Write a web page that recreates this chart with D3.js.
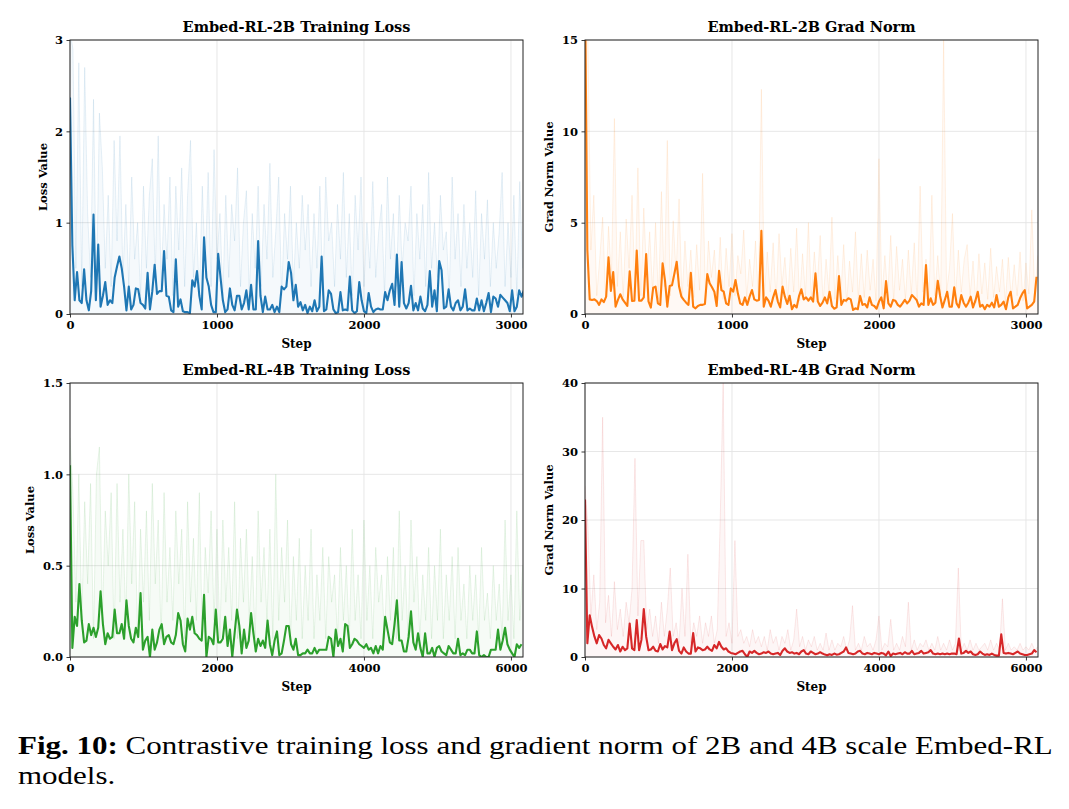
<!DOCTYPE html>
<html>
<head>
<meta charset="utf-8">
<script src="https://cdn.jsdelivr.net/npm/d3@7"></script>
<style>
  body { margin: 0; background: #fff; }
  svg text { font-family: "DejaVu Serif", serif; }
</style>
</head>
<body>
<svg id="fig" width="1069" height="809"></svg>
<script>
// ---- data ----
// smoothed curves: one value every `smoothStride` steps
const loss2B = [
  2.37, 0.75, 0.15, 0.46, 0.15, 0.12, 0.49, 0.15, 0.04, 0.25,
  1.09, 0.15, 0.76, 0.08, 0.2, 0.35, 0.1, 0.15, 0.12, 0.40,
  0.52, 0.63, 0.5, 0.3, 0.04, 0.3, 0.05, 0.1, 0.28, 0.27,
  0.12, 0.1, 0.06, 0.45, 0.05, 0.25, 0.54, 0.22, 0.25, 0.25,
  0.69, 0.2, 0.19, 0.04, 0.02, 0.6, 0.08, 0.16, 0.03, 0.02,
  0.02, 0.01, 0.37, 0.3, 0.47, 0.2, 0.05, 0.84, 0.4, 0.3,
  0.1, 0.02, 0.02, 0.66, 0.4, 0.15, 0.02, 0.05, 0.28, 0.1,
  0.04, 0.2, 0.2, 0.05, 0.12, 0.26, 0.05, 0.32, 0.05, 0.05,
  0.8, 0.2, 0.02, 0.19, 0.05, 0.05, 0.1, 0.02, 0.08, 0.02,
  0.3, 0.27, 0.3, 0.57, 0.45, 0.15, 0.32, 0.08, 0.13, 0.04,
  0.1, 0.01, 0.08, 0.03, 0.15, 0.03, 0.08, 0.63, 0.03, 0.05,
  0.26, 0.22, 0.05, 0.01, 0.02, 0.24, 0.04, 0.05, 0.04, 0.41,
  0.04, 0.01, 0.03, 0.35, 0.15, 0.03, 0.01, 0.23, 0.08, 0.02,
  0.05, 0.06, 0.05, 0.05, 0.24, 0.15, 0.26, 0.33, 0.1, 0.65,
  0.08, 0.57, 0.12, 0.06, 0.12, 0.31, 0.04, 0.12, 0.04, 0.19,
  0.06, 0.03, 0.1, 0.47, 0.08, 0.26, 0.03, 0.58, 0.48, 0.06,
  0.08, 0.27, 0.08, 0.04, 0.12, 0.15, 0.04, 0.08, 0.27, 0.04,
  0.06, 0.04, 0.04, 0.17, 0.04, 0.15, 0.03, 0.12, 0.23, 0.02,
  0.19, 0.17, 0.08, 0.21, 0.18, 0.15, 0.12, 0.03, 0.26, 0.03,
  0.08, 0.26, 0.19, 0.26
];
const grad2B = [
  18, 3.5, 0.8, 0.77, 0.8, 0.71, 0.5, 0.8, 0.65, 0.95,
  3.1, 1.26, 2.3, 0.4, 0.77, 1.08, 0.8, 0.62, 0.44, 2.34,
  0.71, 0.73, 3.47, 0.73, 0.73, 0.91, 3.28, 0.69, 0.35, 1.44,
  1.5, 0.58, 0.5, 2.77, 1.86, 0.4, 1.53, 1.57, 2.2, 2.86,
  1.5, 0.95, 0.77, 0.62, 0.5, 2.26, 0.4, 0.31, 0.44, 0.5,
  0.5, 0.55, 2.19, 1.68, 1.46, 1.22, 0.44, 2.37, 1.31, 1.22,
  0.58, 0.5, 1.4, 1.22, 1.86, 1.13, 0.58, 0.5, 0.91, 0.5,
  0.95, 1.31, 0.8, 0.73, 0.77, 4.56, 0.4, 0.91, 0.73, 0.4,
  0.91, 1.31, 0.68, 0.36, 1.5, 0.95, 0.55, 1.0, 0.26, 0.5,
  0.36, 0.98, 1.35, 0.8, 0.91, 0.73, 0.91, 0.68, 2.23, 0.68,
  0.44, 0.62, 0.91, 0.58, 1.22, 0.44, 0.29, 0.36, 2.08, 0.5,
  0.77, 0.73, 0.86, 0.8, 0.22, 0.31, 0.26, 0.99, 0.5, 0.55,
  0.36, 0.91, 0.5, 0.44, 0.29, 0.68, 0.91, 0.31, 1.8, 0.58,
  0.4, 0.77, 0.73, 0.5, 0.4, 0.58, 0.77, 0.58, 0.73, 1.04,
  0.91, 0.77, 0.4, 0.58, 0.5, 2.68, 0.5, 0.86, 0.5, 0.62,
  1.82, 0.99, 0.36, 0.77, 1.22, 0.4, 0.4, 1.46, 0.58, 0.36,
  1.04, 0.62, 0.4, 0.62, 0.95, 0.36, 0.73, 1.22, 0.4, 0.5,
  0.26, 0.5, 0.4, 0.62, 0.36, 1.04, 0.4, 0.5, 0.68, 0.26,
  0.91, 1.22, 0.31, 0.4, 0.5, 0.86, 1.13, 1.31, 0.31, 0.4,
  0.5, 0.68, 2.04
];
const loss4B = [
  1.05, 0.05, 0.22, 0.17, 0.4, 0.2, 0.08, 0.09, 0.18, 0.12,
  0.16, 0.11, 0.16, 0.36, 0.18, 0.07, 0.13, 0.1, 0.11, 0.26,
  0.13, 0.13, 0.18, 0.1, 0.31, 0.17, 0.1, 0.08, 0.16, 0.11,
  0.35, 0.04, 0.09, 0.11, 0.0, 0.15, 0.04, 0.08, 0.15, 0.18,
  0.07, 0.11, 0.12, 0.08, 0.07, 0.12, 0.24, 0.2, 0.07, 0.03,
  0.21, 0.15, 0.22, 0.13, 0.12, 0.1, 0.09, 0.34, 0.0, 0.11,
  0.1, 0.07, 0.26, 0.08, 0.08, 0.1, 0.22, 0.06, 0.15, 0.0,
  0.13, 0.26, 0.17, 0.02, 0.15, 0.05, 0.09, 0.24, 0.13, 0.03,
  0.1, 0.06, 0.09, 0.05, 0.2, 0.07, 0.01, 0.09, 0.14, 0.01,
  0.02, 0.09, 0.17, 0.17, 0.07, 0.04, 0.1, 0.01, 0.01, 0.02,
  0.02, 0.04, 0.02, 0.02, 0.05, 0.02, 0.04, 0.04, 0.04, 0.04,
  0.11, 0.1, 0.0, 0.15, 0.06, 0.1, 0.03, 0.18, 0.17, 0.05,
  0.07, 0.1, 0.09, 0.07, 0.06, 0.05, 0.07, 0.04, 0.05, 0.02,
  0.06, 0.02, 0.06, 0.04, 0.22, 0.15, 0.08, 0.07, 0.18, 0.31,
  0.09, 0.09, 0.03, 0.03, 0.11, 0.25, 0.08, 0.04, 0.13, 0.05,
  0.0, 0.13, 0.02, 0.02, 0.05, 0.0, 0.05, 0.06, 0.03, 0.02,
  0.01, 0.06, 0.04, 0.02, 0.02, 0.1, 0.01, 0.02, 0.01, 0.04,
  0.04, 0.02, 0.02, 0.14, 0.01, 0.0, 0.01, 0.0, 0.0, 0.04,
  0.04, 0.04, 0.15, 0.04, 0.09, 0.16, 0.07, 0.04, 0.02, 0.0,
  0.07, 0.05, 0.07
];
const grad4B = [
  23, 2.0, 6.1, 4.4, 3.0, 2.0, 3.2, 2.7, 1.75, 1.27,
  2.5, 2.0, 1.5, 1.1, 1.75, 0.8, 1.5, 1.0, 1.27, 4.9,
  1.27, 1.0, 5.4, 1.0, 2.5, 7.0, 3.0, 1.0, 1.1, 1.5,
  0.9, 0.8, 1.9, 1.1, 1.6, 1.4, 3.7, 1.0, 2.0, 2.6,
  0.9, 0.5, 1.4, 0.8, 0.5, 0.5, 3.5, 0.8, 1.4, 1.27,
  1.0, 1.1, 1.5, 1.1, 0.9, 1.75, 1.27, 2.2, 1.5, 1.1,
  1.27, 0.8, 0.6, 0.5, 0.4, 0.6, 0.8, 0.9, 0.4, 0.0,
  0.8, 0.6, 0.9, 0.6, 0.4, 0.5, 0.7, 0.6, 0.8, 0.5,
  0.4, 0.5, 0.6, 0.3, 0.9, 1.27, 0.8, 0.6, 0.7, 0.5,
  0.6, 0.4, 0.8, 1.0, 0.5, 0.4, 0.8, 0.6, 0.4, 0.5,
  0.7, 0.5, 0.35, 0.25, 0.4, 0.3, 0.5, 0.35, 0.4, 0.6,
  0.8, 1.4, 0.6, 0.5, 0.4, 0.5, 0.8, 0.9, 0.5, 0.4,
  0.6, 0.5, 0.4, 0.6, 0.5, 0.4, 0.6, 0.5, 0.25, 0.8,
  0.15, 0.5, 0.4, 0.5, 0.6, 0.4, 0.7, 0.5, 0.5, 0.9,
  0.4, 0.5, 0.6, 0.9, 0.5, 0.6, 0.7, 1.0, 0.5, 0.4,
  0.5, 0.4, 0.5, 0.4, 0.5, 0.4, 0.5, 0.5, 0.4, 2.7,
  0.5, 0.6, 0.9, 0.6, 0.8, 0.4, 0.3, 0.4, 0.8, 0.5,
  0.3, 0.4, 0.3, 0.5, 0.3, 0.2, 0.2, 3.3, 0.6, 0.5,
  0.6, 0.5, 0.4, 0.6, 0.8, 0.5, 0.4, 0.3, 0.3, 0.4,
  0.5, 1.0, 0.7
];

// raw (unsmoothed) curves, drawn faint behind: one value every `rawStride` steps
const loss2BRaw = [
  3.1, 2.9, 0.5, 2.75, 0.3, 2.7, 1.1, 0.4, 2.35, 0.2,
  2.2, 1.6, 0.5, 1.3, 0.3, 1.9, 0.8, 1.95, 0.4, 1.2,
  0.3, 1.5, 0.6, 1.0, 0.2, 1.4, 0.5, 1.3, 1.7, 0.4,
  1.95, 0.3, 1.2, 0.6, 1.5, 0.2, 1.4, 0.7, 1.6, 0.3,
  1.3, 1.9, 0.4, 1.0, 0.2, 1.4, 0.5, 1.55, 0.3, 1.8,
  0.6, 1.1, 0.2, 1.3, 0.4, 1.2, 0.8, 1.6, 0.3, 1.0,
  1.35, 0.2, 1.1, 0.5, 1.4, 0.3, 1.2, 0.6, 1.65, 0.4,
  0.9, 1.5, 0.2, 1.1, 0.6, 1.4, 0.3, 1.0, 0.5, 1.3,
  0.7, 1.2, 0.3, 1.1, 0.5, 1.4, 0.2, 1.5, 0.8, 1.0,
  0.3, 1.2, 0.6, 1.55, 0.4, 1.1, 0.2, 1.3, 0.7, 1.5,
  0.3, 1.0, 0.5, 1.45, 0.4, 0.9, 1.2, 0.2, 1.5, 0.6,
  1.1, 0.3, 1.3, 0.5, 1.0, 0.8, 1.4, 0.2, 1.1, 0.6,
  1.2, 0.3, 1.55, 0.5, 1.0, 0.4, 1.3, 0.7, 0.9, 0.2,
  1.5, 0.6, 1.1, 0.3, 1.2, 0.5, 1.0, 0.4, 1.35, 0.2,
  1.1, 0.6, 1.25, 0.3, 1.0, 0.5, 0.9, 1.55, 0.3, 1.0,
  0.4, 1.3, 0.2, 1.45, 0.5
];
const grad2BRaw = [
  16, 15, 3.5, 6.5, 1.0, 3.0, 5.3, 0.8, 4.8, 2.0,
  10.7, 1.5, 4.5, 0.9, 5.2, 2.5, 6.5, 1.2, 8.0, 1.0,
  5.8, 2.0, 4.5, 1.2, 5.0, 0.8, 6.7, 1.5, 9.5, 1.0,
  5.1, 2.2, 6.3, 0.8, 4.0, 1.5, 3.5, 0.9, 3.8, 1.3,
  7.7, 0.8, 4.0, 2.0, 3.5, 1.0, 4.2, 0.8, 3.6, 1.5,
  4.4, 1.0, 3.2, 2.2, 4.6, 0.9, 3.0, 1.5, 4.0, 0.7,
  12.3, 1.0, 3.4, 1.2, 3.9, 0.8, 4.4, 1.6, 3.1, 0.8,
  3.6, 1.2, 4.7, 0.7, 3.3, 1.0, 5.0, 0.8, 3.4, 1.5,
  4.3, 0.6, 3.0, 1.2, 5.3, 0.8, 3.2, 1.0, 3.8, 0.6,
  2.9, 1.2, 4.5, 0.8, 3.3, 0.9, 3.5, 1.3, 3.0, 0.7,
  8.5, 0.8, 3.2, 1.0, 4.3, 0.7, 3.7, 1.3, 3.0, 0.8,
  3.5, 1.1, 3.9, 0.6, 7.0, 1.2, 3.0, 0.8, 6.5, 1.0,
  3.2, 1.0, 15.0, 1.2, 2.5, 5.5, 0.8, 3.5, 1.2, 3.0,
  3.8, 1.0, 2.9, 0.6, 3.3, 1.1, 2.8, 0.8, 3.6, 0.9,
  2.6, 1.2, 3.0, 0.6, 3.1, 0.9, 2.7, 1.0, 3.4, 0.7,
  2.8, 1.1, 5.7, 0.9, 3.2
];
const loss4BRaw = [
  1.2, 0.9, 0.3, 1.0, 0.2, 0.85, 0.4, 0.95, 0.1, 1.0,
  1.15, 0.2, 0.8, 0.5, 0.9, 0.1, 0.95, 0.3, 0.7, 0.2,
  1.0, 0.4, 0.85, 0.1, 0.7, 0.3, 0.8, 0.2, 0.95, 0.4,
  0.75, 0.1, 0.9, 0.3, 0.6, 0.2, 0.8, 0.4, 0.7, 0.1,
  0.85, 0.3, 0.65, 0.2, 0.9, 0.1, 0.6, 0.35, 0.8, 0.2,
  0.7, 0.1, 0.75, 0.3, 0.6, 0.2, 0.85, 0.1, 0.65, 0.3,
  0.7, 0.2, 0.55, 0.1, 0.8, 0.3, 0.6, 0.2, 0.7, 0.1,
  1.0, 0.2, 0.6, 0.3, 0.75, 0.1, 0.55, 0.2, 0.65, 0.1,
  0.5, 0.2, 0.7, 0.1, 0.45, 0.2, 0.6, 0.1, 0.55, 0.3,
  0.45, 0.1, 0.6, 0.2, 0.5, 0.1, 0.7, 0.2, 0.45, 0.1,
  0.75, 0.2, 0.5, 0.1, 0.6, 0.3, 0.45, 0.1, 0.55, 0.2,
  0.6, 0.1, 0.8, 0.2, 0.5, 0.1, 0.75, 0.3, 0.55, 0.1,
  0.45, 0.2, 0.6, 0.1, 0.5, 0.2, 0.7, 0.1, 0.45, 0.2,
  0.55, 0.1, 0.6, 0.2, 0.4, 0.1, 0.5, 0.2, 0.45, 0.1,
  0.6, 0.2, 0.35, 0.1, 0.5, 0.2, 0.4, 0.1, 0.75, 0.2,
  0.45, 0.1, 0.8, 0.2, 0.5
];
const grad4BRaw = [
  25, 19, 6, 12, 4, 8, 35, 5, 9, 3,
  11, 4, 7, 3, 8, 5, 10, 29, 6, 17,
  17, 4, 7, 3, 6, 2, 8, 3, 7, 13,
  3, 5, 2, 10, 3, 15, 2, 5, 3, 6,
  2, 5, 3, 6, 2, 4, 20, 40, 3, 5,
  2, 17, 3, 4, 2, 3, 1.5, 4, 2, 3,
  1.5, 3, 1, 4, 2, 3, 1, 3, 2, 4,
  1, 2.5, 7, 1.5, 3, 1, 2.5, 1.5, 3, 1,
  2, 1, 3.5, 1, 2.5, 1, 2, 1.5, 3, 1,
  2.5, 7.5, 1, 2, 1, 3, 1.5, 2, 1, 2.5,
  6, 1, 2, 1.5, 5.5, 1, 2, 1, 3, 1.5,
  8, 1, 2.5, 1, 2, 1.5, 2.5, 1, 2, 1,
  3, 1, 2, 1, 2.5, 1, 2, 13, 1, 2,
  1, 2.5, 1, 2, 1, 1.5, 2, 1, 2.5, 1,
  2, 1, 8.5, 1, 2, 1, 1.5, 1, 2, 1,
  1.5, 1, 2, 1, 1.5
];

// ticks
const xTicks2B = [0, 1000, 2000, 3000];
const xTicks4B = [0, 2000, 4000, 6000];
const yTicksLoss2B = [0, 1, 2, 3];
const yTicksGrad2B = [0, 5, 10, 15];
const yTicksLoss4B = [0, 0.5, 1.0, 1.5];
const yTicksGrad4B = [0, 10, 20, 30, 40];

const panels = [
  { title: 'Embed-RL-2B Training Loss', ylabel: 'Loss Value', color: '#1f77b4',
    left: 70, top: 40, smooth: loss2B, smoothStride: 16, raw: loss2BRaw, rawStride: 20,
    xMax: 3082, yMax: 3, xTicks: xTicks2B, yTicks: yTicksLoss2B, yFmt: d3.format('d'), ylabelX: 47 },
  { title: 'Embed-RL-2B Grad Norm', ylabel: 'Grad Norm Value', color: '#ff7f0e',
    left: 585, top: 40, smooth: grad2B, smoothStride: 16, raw: grad2BRaw, rawStride: 20,
    xMax: 3082, yMax: 15, xTicks: xTicks2B, yTicks: yTicksGrad2B, yFmt: d3.format('d'), ylabelX: 553 },
  { title: 'Embed-RL-4B Training Loss', ylabel: 'Loss Value', color: '#2ca02c',
    left: 70, top: 383, smooth: loss4B, smoothStride: 32, raw: loss4BRaw, rawStride: 40,
    xMax: 6164, yMax: 1.5, xTicks: xTicks4B, yTicks: yTicksLoss4B, yFmt: d3.format('.1f'), ylabelX: 34 },
  { title: 'Embed-RL-4B Grad Norm', ylabel: 'Grad Norm Value', color: '#d62728',
    left: 585, top: 383, smooth: grad4B, smoothStride: 32, raw: grad4BRaw, rawStride: 40,
    xMax: 6164, yMax: 40, xTicks: xTicks4B, yTicks: yTicksGrad4B, yFmt: d3.format('d'), ylabelX: 553 }
];

const W = 453, H = 274;
const svg = d3.select('#fig');

panels.forEach(function(p, k) {
  const x = d3.scaleLinear().domain([0, p.xMax]).range([p.left, p.left + W]);
  const y = d3.scaleLinear().domain([0, p.yMax]).range([p.top + H, p.top]);
  const g = svg.append('g');

  // grid
  g.selectAll('line.gx').data(p.xTicks).enter().append('line')
    .attr('x1', d => x(d)).attr('x2', d => x(d))
    .attr('y1', p.top).attr('y2', p.top + H)
    .attr('stroke', '#e4e4e4').attr('stroke-width', 0.9);
  g.selectAll('line.gy').data(p.yTicks).enter().append('line')
    .attr('x1', p.left).attr('x2', p.left + W)
    .attr('y1', d => y(d)).attr('y2', d => y(d))
    .attr('stroke', '#e4e4e4').attr('stroke-width', 0.9);

  svg.append('clipPath').attr('id', 'clip' + k)
    .append('rect').attr('x', p.left).attr('y', p.top).attr('width', W).attr('height', H);
  const plot = g.append('g').attr('clip-path', 'url(#clip' + k + ')');

  const rawX = (d, i) => x(i * p.rawStride);
  plot.append('path').datum(p.raw)
    .attr('d', d3.area().x(rawX).y0(y(0)).y1(d => y(d)))
    .attr('fill', p.color).attr('fill-opacity', 0.045);
  plot.append('path').datum(p.raw)
    .attr('d', d3.line().x(rawX).y(d => y(d)))
    .attr('fill', 'none').attr('stroke', p.color)
    .attr('stroke-opacity', 0.1).attr('stroke-width', 1);

  plot.append('path').datum(p.smooth)
    .attr('d', d3.line().x((d, i) => x(i * p.smoothStride)).y(d => y(d)))
    .attr('fill', 'none').attr('stroke', p.color)
    .attr('stroke-width', 2.1).attr('stroke-linejoin', 'round');

  // axes
  const xa = g.append('g').attr('transform', 'translate(0,' + (p.top + H) + ')')
    .call(d3.axisBottom(x).tickValues(p.xTicks).tickFormat(d3.format('d')).tickSize(3.5).tickPadding(3));
  const ya = g.append('g').attr('transform', 'translate(' + p.left + ',0)')
    .call(d3.axisLeft(y).tickValues(p.yTicks).tickFormat(p.yFmt).tickSize(3.5).tickPadding(3.5));
  [xa, ya].forEach(a => {
    a.select('.domain').remove();
    a.selectAll('line').attr('stroke', '#222').attr('stroke-width', 0.9);
    a.selectAll('text').attr('fill', '#000')
      .style('font-family', '"DejaVu Serif", serif')
      .style('font-weight', 'bold').style('font-size', '11.5px');
  });

  // frame
  g.append('rect').attr('x', p.left).attr('y', p.top).attr('width', W).attr('height', H)
    .attr('fill', 'none').attr('stroke', '#222').attr('stroke-width', 1);

  g.append('text').attr('x', p.left + W / 2).attr('y', p.top - 8)
    .attr('text-anchor', 'middle').style('font-weight', 'bold').style('font-size', '14.5px')
    .text(p.title);
  g.append('text').attr('x', p.left + W / 2).attr('y', p.top + H + 34)
    .attr('text-anchor', 'middle').style('font-weight', 'bold').style('font-size', '12px')
    .text('Step');
  g.append('text')
    .attr('transform', 'translate(' + p.ylabelX + ',' + (p.top + H / 2) + ') rotate(-90)')
    .attr('text-anchor', 'middle').style('font-weight', 'bold').style('font-size', '11.5px')
    .text(p.ylabel);
});

// caption: Liberation Serif stretched horizontally to the width of the original line
const capG = svg.append('g');
const cap1 = capG.append('text').attr('x', 0).attr('y', 754)
  .style('font-family', '"Liberation Serif", serif').style('font-size', '25px');
cap1.append('tspan').style('font-weight', 'bold').text('Fig. 10:');
cap1.append('tspan').text(' Contrastive training loss and gradient norm of 2B and 4B scale Embed-RL');
const cap2 = capG.append('text').attr('x', 0).attr('y', 784)
  .style('font-family', '"Liberation Serif", serif').style('font-size', '25px')
  .text('models.');
const sx = 1035 / cap1.node().getComputedTextLength();
capG.attr('transform', 'translate(18,0) scale(' + sx + ',1)');
</script>
</body>
</html>
